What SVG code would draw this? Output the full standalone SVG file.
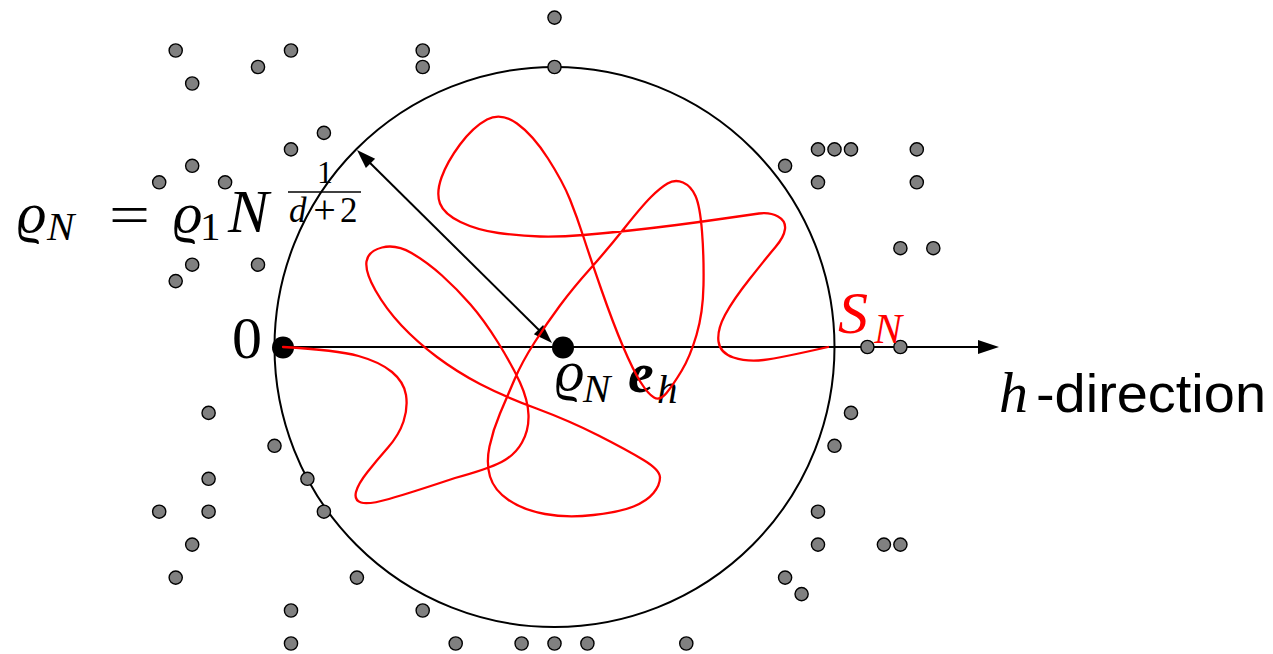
<svg xmlns="http://www.w3.org/2000/svg" width="1273" height="654" viewBox="0 0 1273 654">
<style>
.dot{fill:#808080;stroke:#000;stroke-width:1.4}
.big{fill:#000}
.ln{stroke:#000;stroke-width:2;fill:none}
.head{fill:#000;stroke:none}
.m{font-family:'Liberation Serif','DejaVu Serif',serif;font-style:italic;fill:#000}
.r{font-family:'Liberation Serif','DejaVu Serif',serif;font-style:normal;fill:#000}
.sans{font-family:'Liberation Sans','DejaVu Sans',sans-serif;fill:#000}
.red{fill:#ff0000}
.curve{fill:none;stroke:#ff0000;stroke-width:2.3;stroke-linejoin:round;stroke-linecap:round}
</style>
<rect width="1273" height="654" fill="#fff"/>
<g id="ball">
<circle cx="554.5" cy="347" r="280" fill="none" stroke="#000" stroke-width="2"/>
</g>
<g id="connectors">
<line class="ln" x1="283" y1="347" x2="985" y2="347"/>
<path class="head" d="M999,347 L978,340 L978,354 Z"/>
<line class="ln" x1="362" y1="155" x2="546" y2="337"/>
<path class="head" d="M552,343 L533.9,334.2 L543.1,325 Z"/>
<path class="head" d="M357,150 L365.9,168 L375.1,158.8 Z"/>
</g>
<g id="points">
<circle class="dot" cx="175.7" cy="50.5" r="6.6"/>
<circle class="dot" cx="192.2" cy="83.5" r="6.6"/>
<circle class="dot" cx="258" cy="67" r="6.6"/>
<circle class="dot" cx="291" cy="50.5" r="6.6"/>
<circle class="dot" cx="422.7" cy="50.5" r="6.6"/>
<circle class="dot" cx="422.7" cy="67" r="6.6"/>
<circle class="dot" cx="323.9" cy="132.9" r="6.6"/>
<circle class="dot" cx="291" cy="149.4" r="6.6"/>
<circle class="dot" cx="192.2" cy="165.8" r="6.6"/>
<circle class="dot" cx="159.2" cy="182.3" r="6.6"/>
<circle class="dot" cx="225.1" cy="182.3" r="6.6"/>
<circle class="dot" cx="192.2" cy="264.7" r="6.6"/>
<circle class="dot" cx="175.7" cy="281.1" r="6.6"/>
<circle class="dot" cx="258" cy="264.7" r="6.6"/>
<circle class="dot" cx="554.5" cy="17.6" r="6.6"/>
<circle class="dot" cx="554.5" cy="67" r="6.6"/>
<circle class="dot" cx="818" cy="149.4" r="6.6"/>
<circle class="dot" cx="834.5" cy="149.4" r="6.6"/>
<circle class="dot" cx="851" cy="149.4" r="6.6"/>
<circle class="dot" cx="916.8" cy="149.4" r="6.6"/>
<circle class="dot" cx="785.1" cy="165.8" r="6.6"/>
<circle class="dot" cx="818" cy="182.3" r="6.6"/>
<circle class="dot" cx="916.8" cy="182.3" r="6.6"/>
<circle class="dot" cx="900.4" cy="248.2" r="6.6"/>
<circle class="dot" cx="933.3" cy="248.2" r="6.6"/>
<circle class="dot" cx="867.4" cy="347" r="6.6"/>
<circle class="dot" cx="900.4" cy="347" r="6.6"/>
<circle class="dot" cx="208.6" cy="412.9" r="6.6"/>
<circle class="dot" cx="274.5" cy="445.8" r="6.6"/>
<circle class="dot" cx="208.6" cy="478.8" r="6.6"/>
<circle class="dot" cx="307.4" cy="478.8" r="6.6"/>
<circle class="dot" cx="159.2" cy="511.7" r="6.6"/>
<circle class="dot" cx="208.6" cy="511.7" r="6.6"/>
<circle class="dot" cx="323.9" cy="511.7" r="6.6"/>
<circle class="dot" cx="192.2" cy="544.6" r="6.6"/>
<circle class="dot" cx="175.7" cy="577.6" r="6.6"/>
<circle class="dot" cx="356.9" cy="577.6" r="6.6"/>
<circle class="dot" cx="291" cy="610.5" r="6.6"/>
<circle class="dot" cx="422.7" cy="610.5" r="6.6"/>
<circle class="dot" cx="291" cy="643.5" r="6.6"/>
<circle class="dot" cx="455.7" cy="643.5" r="6.6"/>
<circle class="dot" cx="521.6" cy="643.5" r="6.6"/>
<circle class="dot" cx="554.5" cy="643.5" r="6.6"/>
<circle class="dot" cx="587.4" cy="643.5" r="6.6"/>
<circle class="dot" cx="686.3" cy="643.5" r="6.6"/>
<circle class="dot" cx="851" cy="412.9" r="6.6"/>
<circle class="dot" cx="834.5" cy="445.8" r="6.6"/>
<circle class="dot" cx="818" cy="511.7" r="6.6"/>
<circle class="dot" cx="818" cy="544.6" r="6.6"/>
<circle class="dot" cx="883.9" cy="544.6" r="6.6"/>
<circle class="dot" cx="900.4" cy="544.6" r="6.6"/>
<circle class="dot" cx="785.1" cy="577.6" r="6.6"/>
<circle class="dot" cx="801.6" cy="594.1" r="6.6"/>
</g>
<g id="origin">
<circle class="big" cx="283" cy="347.5" r="11"/>
<text class="r" x="232" y="358" font-size="60">0</text>
</g>
<g id="center">
<circle class="big" cx="563" cy="347.5" r="11"/>
<text class="m" x="555" y="390" font-size="58">ϱ</text>
<text class="m" x="583" y="402" font-size="41">N</text>
<text class="m" x="628" y="392" font-size="58" font-weight="bold">e</text>
<text class="m" x="657" y="403" font-size="41">h</text>
</g>
<g id="radius-label">
<text class="m" x="17" y="232" font-size="58">ϱ</text>
<text class="m" x="47" y="240" font-size="41">N</text>
<text class="r" x="109" y="234" font-size="58" textLength="41" lengthAdjust="spacingAndGlyphs">=</text>
<text class="m" x="173" y="232" font-size="58">ϱ</text>
<text class="r" x="200" y="240" font-size="41">1</text>
<text class="m" x="228" y="232" font-size="61">N</text>
<text class="r" x="325" y="183" font-size="32" text-anchor="middle">1</text>
<line x1="288" y1="192" x2="361" y2="192" stroke="#000" stroke-width="1.4"/>
<text class="m" x="289" y="222" font-size="35">d</text>
<text class="r" x="324.5" y="223" font-size="40" text-anchor="middle">+</text>
<text class="r" x="340" y="222" font-size="35">2</text>
</g>
<g id="direction-label">
<text class="m" x="999" y="412" font-size="58">h</text>
<text class="sans" x="1036" y="412" font-size="53" textLength="230" lengthAdjust="spacingAndGlyphs">-direction</text>
</g>
<g id="path-SN">
<path class="curve" d="M283,347 Q337,350 358.5,356 Q380,362 392,372 Q404,382 406,395 Q408,408 403.5,421.5 Q399,435 388,447.5 Q377,460 367.5,472 Q358,484 356,492 Q354,500 361,502.5 Q368,505 389,499 Q410,493 455,478 Q488,469 501.5,462 Q515,455 522,442.5 Q529,430 528.5,415 Q528,400 520,382.5 Q512,365 498,342.5 Q484,320 470.5,304.5 Q457,289 442,275.5 Q427,262 411.5,253 Q396,244 382,247.5 Q368,251 366.5,261.5 Q365,272 375.5,290.5 Q386,309 401.5,325.5 Q417,342 437,357 Q457,372 480,384 Q503,396 536.5,408.5 Q570,421 598.5,435.5 Q627,450 643.5,460 Q660,470 660,477.5 Q660,485 653.5,493 Q647,501 633.5,506.5 Q620,512 593.5,515 Q567,518 545,514 Q523,510 508.5,500 Q494,490 490,476.5 Q486,463 489.5,446.5 Q493,430 500,413.5 Q507,397 514.5,379.5 Q522,362 534.5,342.5 Q547,323 560,305.5 Q573,288 590,269 Q607,250 624.5,228 Q642,206 651,197 Q660,188 667.5,183.5 Q675,179 683,182.5 Q691,186 695.5,196 Q700,206 702,231.5 Q704,257 703.5,285 Q703,313 696.5,335 Q690,357 681.5,371 Q673,385 666.5,393 Q660,401 654,397.5 Q648,394 640.5,382 Q633,370 623,346.5 Q613,323 601.5,290 Q590,257 583.5,237 Q577,217 570,199.5 Q563,182 548,158.5 Q533,135 517,123.5 Q501,112 487,119.5 Q473,127 460,144.5 Q447,162 441.5,177.5 Q436,193 440,203.5 Q444,214 460.5,222 Q477,230 498.5,233 Q520,236 540,236.5 Q560,237 583.5,235 Q607,233 630,230.5 Q653,228 676.5,225 Q700,222 724,218.5 Q748,215 759,213.5 Q770,212 778,216.5 Q786,221 785,229 Q784,237 775.5,247 Q767,257 750,278.5 Q733,300 725,315 Q717,330 718.5,341.5 Q720,353 733.5,357.5 Q747,362 763.5,360 Q780,358 828,347"/>
<text class="m red" x="838" y="333" font-size="60">S</text>
<text class="m red" x="874" y="343" font-size="42">N</text>
</g>
</svg>
